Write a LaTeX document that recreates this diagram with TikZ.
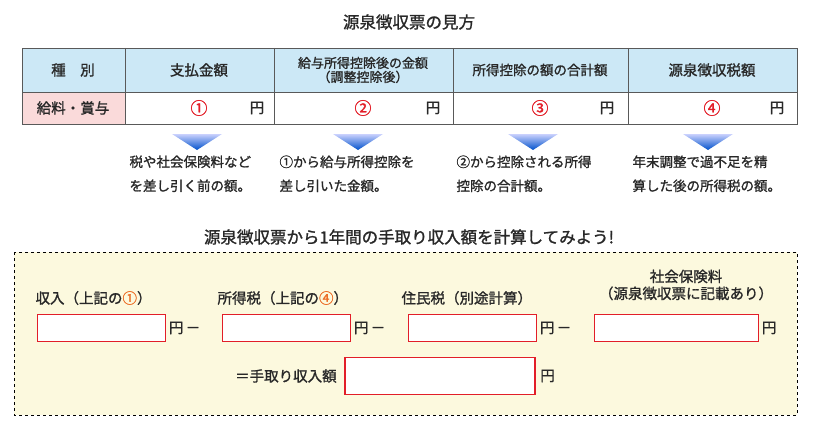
\documentclass[tikz,border=0pt]{standalone}
\usepackage{fontspec}
\setmainfont{Noto Sans CJK JP}[FakeBold=1.3]
\usetikzlibrary{positioning}
\definecolor{headblue}{RGB}{204,232,246}
\definecolor{rowpink}{RGB}{250,218,218}
\definecolor{boxyellow}{RGB}{252,249,222}
\definecolor{numred}{RGB}{226,30,40}
\definecolor{numorange}{RGB}{236,110,40}
\definecolor{txtgray}{RGB}{40,40,40}
\tikzset{
  inbox/.style={draw=numred,fill=white,line width=0.8pt,minimum width=128pt,minimum height=27pt},
  down/.style={top color=headblue!60!blue!40,bottom color=blue!60!cyan!80!black}
}
\begin{document}
\begin{tikzpicture}[x=1pt,y=-1pt,font=\fontsize{14.5}{17}\selectfont,text=txtgray]
    \useasboundingbox (0,0) rectangle (818,436);
    \node (title) at (409,22) {\fontsize{16.5}{18}\selectfont 源泉徴収票の見方};
    % table
    \fill[headblue] (22,48) rectangle (797,92);
    \fill[rowpink] (22,92) rectangle (125,124);
    \draw[gray!70!black,line width=0.8pt] (22,48) rectangle (797,124);
    \draw[gray!70!black] (22,92) -- (797,92);
    \foreach \c in {125,274,453,628}
        \draw[gray!70!black] (\c,48) -- (\c,124);
    \node (h1) at (73,70) {種\quad 別};
    \node (h2) at (199,70) {支払金額};
    \node[align=center,font=\fontsize{13}{14}\selectfont] (h3) at (363,70) {給与所得控除後の金額\\（調整控除後）};
    \node[font=\fontsize{13.5}{15}\selectfont] (h4) at (540,70) {所得控除の額の合計額};
    \node (h5) at (712,70) {源泉徴収税額};
    \node (r1) at (73,108) {給料・賞与};
    \foreach \n/\g/\cx/\ce in {1/①/199/257,2/②/363/433,3/③/540/607,4/④/712/777}
    {
        \node[text=numred] (num\n) at (\cx,108) {\fontsize{17}{17}\selectfont\g};
        \node (yen\n) at (\ce,108) {円};
    }
    % arrows
    \foreach \ax in {197,358,533,708}
        \shade[down] (\ax-25,134) -- (\ax+25,134) -- (\ax,150) -- cycle;
    \node[align=left,anchor=north west,font=\fontsize{13.5}{24}\selectfont] (d1) at (126,152) {税や社会保険料など\\を差し引く前の額。};
    \node[align=left,anchor=north west,font=\fontsize{13.5}{24}\selectfont] (d2) at (276,152) {①から給与所得控除を\\差し引いた金額。};
    \node[align=left,anchor=north west,font=\fontsize{13.5}{24}\selectfont] (d3) at (453,152) {②から控除される所得\\控除の合計額。};
    \node[align=left,anchor=north west,font=\fontsize{13.5}{24}\selectfont] (d4) at (629,152) {年末調整で過不足を精\\算した後の所得税の額。};
    % calculation
    \node (title2) at (409,237) {\fontsize{16.5}{18}\selectfont 源泉徴収票から1年間の手取り収入額を計算してみよう!};
    \draw[dashed,fill=boxyellow] (14,252) rectangle (797,415);
    \node[anchor=west] (l1) at (32,298) {収入（上記の\textcolor{numorange}{①}）};
    \node[anchor=west] (l2) at (214,298) {所得税（上記の\textcolor{numorange}{④}）};
    \node[anchor=west] (l3) at (398,298) {住民税（別途計算）};
    \node[align=center] (l4) at (686,285) {社会保険料\\（源泉徴収票に記載あり）};
    \node[inbox] (b1) at (101,328) {};
    \node[inbox] (b2) at (286,328) {};
    \node[inbox] (b3) at (472,328) {};
    \node[inbox,minimum width=164pt] (b4) at (676,328) {};
    \node[right=0pt of b1] (y1) {円\,－};
    \node[right=0pt of b2] (y2) {円\,－};
    \node[right=0pt of b3] (y3) {円\,－};
    \node[right=0pt of b4] (y4) {円};
    \node[draw=numred,fill=white,line width=1.6pt,minimum width=190pt,minimum height=37pt] (total) at (440,376) {};
    \node[left=4pt of total] (eq) {＝手取り収入額};
    \node[right=1pt of total] (y5) {円};
\end{tikzpicture}
\end{document}
